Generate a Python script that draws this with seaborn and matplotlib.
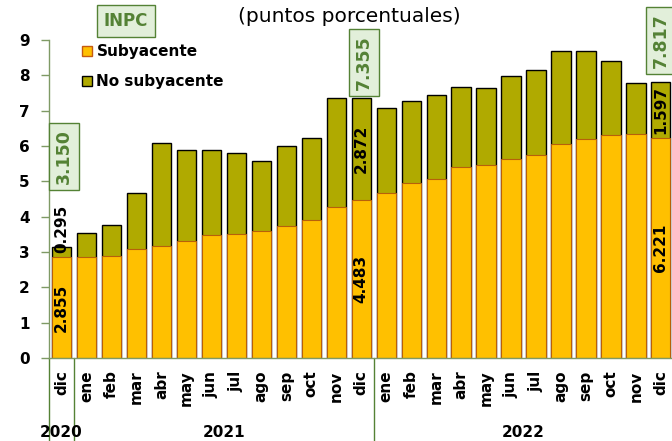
import numpy as np
import pandas as pd
import seaborn as sns
import matplotlib.pyplot as plt
from matplotlib.lines import Line2D

# Data (puntos porcentuales)
months = ['dic'] + ['ene', 'feb', 'mar', 'abr', 'may', 'jun', 'jul', 'ago', 'sep', 'oct', 'nov', 'dic'] * 2
years = ['2020'] + ['2021'] * 12 + ['2022'] * 12
inpc = [3.150, 3.54, 3.76, 4.67, 6.08, 5.90, 5.88, 5.81, 5.59, 6.00, 6.24, 7.37, 7.355,
        7.07, 7.28, 7.45, 7.68, 7.65, 7.99, 8.15, 8.70, 8.70, 8.41, 7.80, 7.817]
subyacente = [2.855, 2.87, 2.89, 3.09, 3.16, 3.32, 3.48, 3.52, 3.60, 3.74, 3.92, 4.28, 4.483,
              4.67, 4.95, 5.08, 5.41, 5.47, 5.64, 5.74, 6.06, 6.21, 6.31, 6.34, 6.221]
no_subyacente = [i - s for i, s in zip(inpc, subyacente)]
labeled = [0, 12, 24]
no_sub_text = ['0.295', '2.872', '1.597']
sub_text = ['2.855', '4.483', '6.221']
inpc_text = ['3.150', '7.355', '7.817']

df = pd.DataFrame({'key': [f'{m}-{y}-{i}' for i, (m, y) in enumerate(zip(months, years))],
                   'inpc': inpc, 'sub': subyacente})

GOLD = '#FFC000'
OLIVE = '#B0AA00'
GREEN = '#548235'
BOXFILL = '#E2EFDA'
SPINE = '#7F9A65'

sns.set_style('white')
plt.rcParams['font.family'] = ['DejaVu Sans']
plt.rcParams['text.color'] = 'black'
plt.rcParams['xtick.color'] = 'black'
plt.rcParams['ytick.color'] = 'black'

fig = plt.figure(figsize=(6.72, 4.41), dpi=100)
ax = fig.add_axes([0.073, 0.188, 0.929, 0.721])

sns.barplot(data=df, x='key', y='inpc', color=OLIVE, saturation=1, edgecolor='black',
            linewidth=1, width=0.77, ax=ax)
sns.barplot(data=df, x='key', y='sub', color=GOLD, saturation=1, edgecolor='#B8600A',
            linewidth=0.8, width=0.77, ax=ax)

ax.set_xlim(-0.5, 24.5)
ax.set_ylim(0, 9)
ax.set_xlabel('')
ax.set_ylabel('')
ax.set_yticks(range(10))
ax.set_yticklabels([str(v) for v in range(10)], fontweight='bold', fontsize=11)
ax.set_xticks(range(len(months)))
ax.set_xticklabels(months, rotation=90, fontweight='bold', fontsize=11)
ax.tick_params(axis='x', length=0, pad=9, labelcolor='black')
ax.tick_params(axis='y', length=6, width=1, color=SPINE, labelcolor='black', pad=8,
               direction='out', left=True)
for side in ['top', 'right']:
    ax.spines[side].set_visible(False)
for side in ['left', 'bottom']:
    ax.spines[side].set_color(SPINE)
    ax.spines[side].set_linewidth(1)

# value labels inside the bars
for k, i in enumerate(labeled):
    ax.text(i, subyacente[i] / 2, sub_text[k], rotation=90, ha='center', va='center',
            fontsize=11, fontweight='bold', color='black')
    if k == 0:
        ax.text(i, subyacente[i] + 0.13, no_sub_text[k], rotation=90, ha='center', va='bottom',
                fontsize=11, fontweight='bold', color='black')
    else:
        ax.text(i, subyacente[i] + no_subyacente[i] / 2, no_sub_text[k], rotation=90,
                ha='center', va='center', fontsize=11, fontweight='bold', color='black')

# INPC total boxes
box_y = [5.7, 8.37, 9.0]
box_dx = [0.1, 0.1, 0.0]
for k, i in enumerate(labeled):
    ax.text(i + box_dx[k], box_y[k], inpc_text[k], rotation=90, ha='center', va='center',
            fontsize=12.5, fontweight='bold', color=GREEN, clip_on=False,
            bbox=dict(boxstyle='square,pad=0.35', fc=BOXFILL, ec=GREEN, lw=1))

# separators between years below the axis
for x in [-0.5, 0.5, 12.5]:
    ax.plot([x, x], [0, -0.262], transform=ax.get_xaxis_transform(), color=GREEN,
            lw=1, clip_on=False)
year_pos = {'2020': 0, '2021': 6.5, '2022': 18.5}
for y, x in year_pos.items():
    ax.text(x, -0.235, y, transform=ax.get_xaxis_transform(), ha='center', va='center',
            fontsize=11, fontweight='bold', color='black')

# legend
handles = [Line2D([], [], marker='s', ls='', markersize=7.5, markerfacecolor=GOLD,
                  markeredgecolor='#C55A11', markeredgewidth=1),
           Line2D([], [], marker='s', ls='', markersize=7.5, markerfacecolor=OLIVE,
                  markeredgecolor='black', markeredgewidth=1)]
ax.legend(handles, ['Subyacente', 'No subyacente'], loc='upper left',
          bbox_to_anchor=(0.027, 1.03), frameon=False, handletextpad=0.1,
          handlelength=1.0, labelspacing=0.95, prop={'weight': 'bold', 'size': 11})

# INPC tag and subtitle
fig.text(126 / 672, 1 - 21 / 441, 'INPC', ha='center', va='center', fontsize=12,
         fontweight='bold', color=GREEN,
         bbox=dict(boxstyle='square,pad=0.4', fc=BOXFILL, ec=GREEN, lw=1))
fig.text(349 / 672, 1 - 17 / 441, '(puntos porcentuales)', ha='center', va='center',
         fontsize=14.5, color='black')

fig.savefig('out.png', dpi=100)
